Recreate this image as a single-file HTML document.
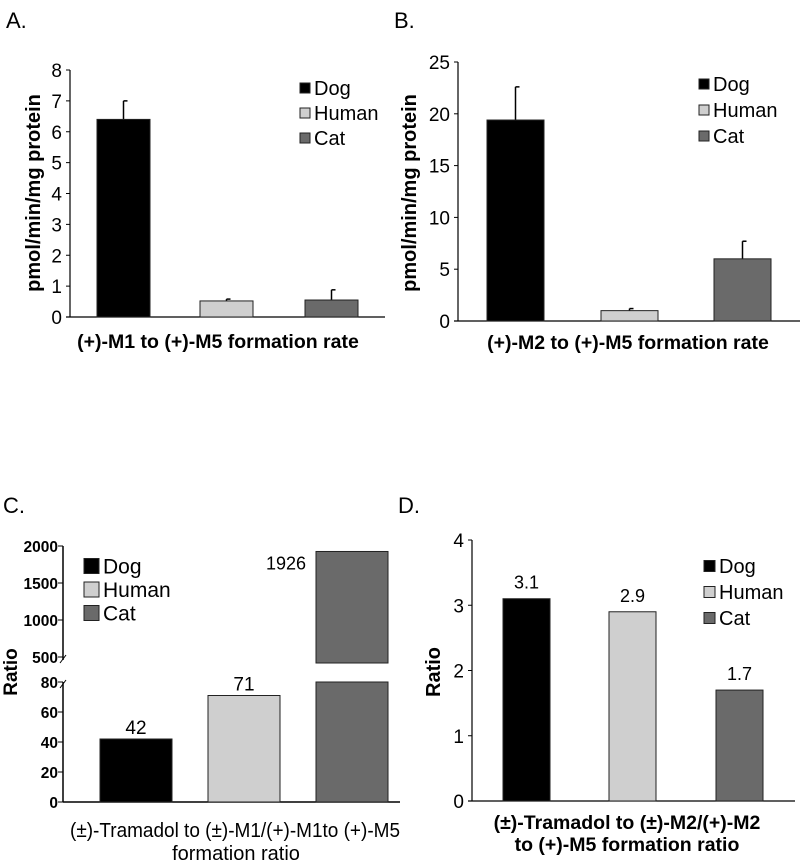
<!DOCTYPE html>
<html><head><meta charset="utf-8"><style>
body{margin:0;background:#fff}
svg{display:block;font-family:"Liberation Sans",Arial,sans-serif}
</style></head><body>
<svg id="fig" width="800" height="865" viewBox="0 0 800 865">
<text x="6" y="28" font-size="22">A.</text>
<text x="394" y="28" font-size="22">B.</text>
<text x="3" y="513" font-size="22">C.</text>
<text x="398" y="513" font-size="22">D.</text>
<g id="gA"></g>
<g id="gB"></g>
<g id="gC"></g>
<g id="gD"></g>
</svg>
<script>
const species = ["Dog","Human","Cat"];
const fills = ["#000000","#cfcfcf","#6a6a6a"];
const aValues = [6.4, 0.52, 0.55];
const aErrors = [0.6, 0.06, 0.33];
const aTicks = [0,1,2,3,4,5,6,7,8];
const bValues = [19.4, 1.0, 6.0];
const bErrors = [3.2, 0.2, 1.7];
const bTicks = [0,5,10,15,20,25];
const cValues = [42, 71, 1926];
const cLowTicks = [0,20,40,60,80];
const cHighTicks = [500,1000,1500,2000];
const dValues = [3.1, 2.9, 1.7];
const dTicks = [0,1,2,3,4];
const NS="http://www.w3.org/2000/svg";
function mk(p,t,a){const e=document.createElementNS(NS,t);for(const k in a)e.setAttribute(k,a[k]);p.appendChild(e);return e;}
function txt(p,x,y,s,a){const e=mk(p,"text",Object.assign({x:x,y:y},a));e.textContent=s;return e;}

function legend(g,x,y0,dy,sq,fs){
  species.forEach((s,i)=>{
    const r=mk(g,"rect",{x:x,y:y0+i*dy-sq/2,width:sq,height:sq,fill:fills[i],stroke:"#222","stroke-width":1});
    
    
    const t=txt(g,x+sq+4,y0+i*dy+fs*0.36,s,{"font-size":fs});
    
    
  });
}

function simple(g,o){
  const ys=v=>o.y0-(v-o.min)/(o.max-o.min)*(o.y0-o.yTop);
  mk(g,"line",{x1:o.ax,y1:o.yTop,x2:o.ax,y2:o.y0,stroke:"#000","stroke-width":1.2});
  mk(g,"line",{x1:o.ax-4,y1:o.y0,x2:o.xEnd,y2:o.y0,stroke:"#000","stroke-width":1.2});
  o.ticks.forEach(t=>{
    mk(g,"line",{x1:o.ax-4,y1:ys(t),x2:o.ax,y2:ys(t),stroke:"#000"});
    const l=txt(g,o.ax-8,ys(t)+7,String(t),{"font-size":19,"text-anchor":"end"});
    
    
  });
  o.values.forEach((v,i)=>{
    const x=o.bx[i];
    if(o.errors){
      const ye=ys(v+o.errors[i]);
      mk(g,"line",{x1:x+o.bw/2,y1:ye,x2:x+o.bw/2,y2:ys(v),stroke:"#000","stroke-width":1.5});
      mk(g,"line",{x1:x+o.bw/2,y1:ye,x2:x+o.bw/2+4,y2:ye,stroke:"#000","stroke-width":1.5});
    }
    const b=mk(g,"rect",{x:x,y:ys(v),width:o.bw,height:o.y0-ys(v),fill:fills[i],stroke:"#222","stroke-width":1});
    
    
    if(o.labels){txt(g,x+o.bw/2,ys(v)-10,String(v),{"font-size":18,"text-anchor":"middle"});}
  });
  const yl=txt(g,0,0,o.ylabel,{"font-size":o.ylfs,"font-weight":"bold","text-anchor":"middle",transform:`translate(${o.ylx},${o.yly}) rotate(-90)`});
  
  
  o.title.forEach((s,k)=>{
    const t=txt(g,o.tx,o.ty+k*22,s,{"font-size":o.tfs,"font-weight":"bold","text-anchor":"middle"});
    
    
  });
}

simple(document.getElementById("gA"),{values:aValues,errors:aErrors,ticks:aTicks,min:0,max:8,ax:70,y0:317,yTop:70,xEnd:385,bx:[97,200,305],bw:53,ylabel:"pmol/min/mg protein",ylfs:20,ylx:40,yly:193,title:["(+)-M1 to (+)-M5 formation rate"],tx:218,ty:348,tfs:19.5});
legend(document.getElementById("gA"),300,88,25,10,20);

simple(document.getElementById("gB"),{values:bValues,errors:bErrors,ticks:bTicks,min:0,max:25,ax:458,y0:321,yTop:62,xEnd:800,bx:[487,601,714],bw:57,ylabel:"pmol/min/mg protein",ylfs:20,ylx:416,yly:193,title:["(+)-M2 to (+)-M5 formation rate"],tx:628,ty:349,tfs:19.5});
legend(document.getElementById("gB"),699,84,26,10,20);

simple(document.getElementById("gD"),{values:dValues,ticks:dTicks,min:0,max:4,ax:472,y0:801,yTop:540,xEnd:795,bx:[503,609,716],bw:47,labels:true,ylabel:"Ratio",ylfs:20,ylx:440,yly:672,title:["(±)-Tramadol to (±)-M2/(+)-M2","to (+)-M5 formation ratio"],tx:627,ty:829,tfs:19.5});
legend(document.getElementById("gD"),704,566,26,11,20);

(function(){
  const g=document.getElementById("gC");
  const ax=63, y0=802, y80=682, y500=657, y2000=546;
  const yl=v=>y0-v/80*(y0-y80);
  const yh=v=>y500-(v-500)/1500*(y500-y2000);
  const bx=[100,208,316], bw=72;
  mk(g,"line",{x1:ax,y1:y80,x2:ax,y2:y0,stroke:"#000","stroke-width":1.5});
  mk(g,"line",{x1:ax,y1:y2000,x2:ax,y2:y500+3,stroke:"#000","stroke-width":1.5});
  mk(g,"line",{x1:ax-3,y1:y500+6,x2:ax+3,y2:y500-2,stroke:"#000"});
  mk(g,"line",{x1:ax-3,y1:y80+6,x2:ax+3,y2:y80-2,stroke:"#000"});
  mk(g,"line",{x1:ax,y1:y0,x2:400,y2:y0,stroke:"#000","stroke-width":1.5});
  cLowTicks.forEach(t=>{mk(g,"line",{x1:ax-5,y1:yl(t),x2:ax,y2:yl(t),stroke:"#000"});
    const l=txt(g,ax-5,yl(t)+6,String(t),{"font-size":15.5,"font-weight":"bold","text-anchor":"end"});
    
    });
  cHighTicks.forEach(t=>{mk(g,"line",{x1:ax-5,y1:yh(t),x2:ax,y2:yh(t),stroke:"#000"});
    const l=txt(g,ax-5,yh(t)+6,String(t),{"font-size":15.5,"font-weight":"bold","text-anchor":"end"});
    
    });
  cValues.forEach((v,i)=>{
    const x=bx[i];
    if(v<=80){
      const b=mk(g,"rect",{x:x,y:yl(v),width:bw,height:y0-yl(v),fill:fills[i],stroke:"#222","stroke-width":1});
      
      
      txt(g,x+bw/2,yl(v)-5,String(v),{"font-size":19,"text-anchor":"middle"});
    } else {
      const b1=mk(g,"rect",{x:x,y:y80,width:bw,height:y0-y80,fill:fills[i],stroke:"#222","stroke-width":1});
      
      
      const b2=mk(g,"rect",{x:x,y:yh(v),width:bw,height:(y500+6)-yh(v),fill:fills[i],stroke:"#222","stroke-width":1});
      
      
      txt(g,x-10,yh(v)+18,String(v),{"font-size":18,"text-anchor":"end"});
    }
  });
  const ylab=txt(g,0,0,"Ratio",{"font-size":19,"font-weight":"bold","text-anchor":"middle",transform:"translate(17,672) rotate(-90)"});
  
  
  const t1=txt(g,235,837,"(±)-Tramadol to (±)-M1/(+)-M1to (+)-M5",{"font-size":20,"text-anchor":"middle",textLength:330,lengthAdjust:"spacingAndGlyphs"});
  
  
  txt(g,236,860,"formation ratio",{"font-size":20,"text-anchor":"middle"});
  legend(g,84,566,23.5,15,21);
})();
</script>
</body></html>
